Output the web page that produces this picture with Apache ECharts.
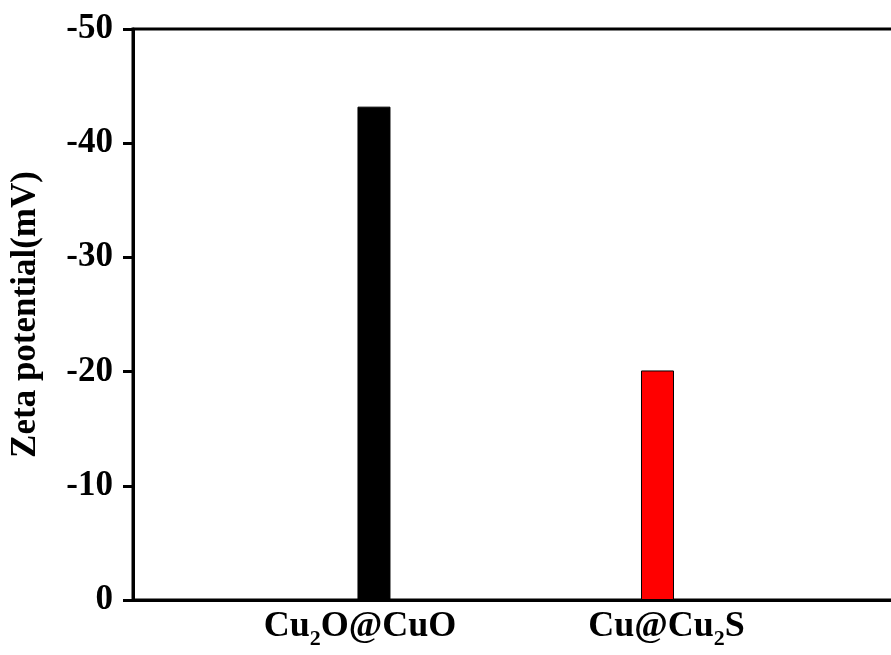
<!DOCTYPE html>
<html>
<head>
<meta charset="utf-8">
<script src="https://cdn.jsdelivr.net/npm/echarts@6/dist/echarts.min.js"></script>
<style>html,body{margin:0;padding:0;background:#fff}#c{width:891px;height:655px}</style>
</head>
<body>
<div id="c"></div>
<script>
const categories = ['Cu2O@CuO', 'Cu@Cu2S'];
const positions = [1, 2];
const zetaValues = [-43.2, -20.1];
const barColors = ['#000000', '#ff0000'];
const yTicks = [-50, -40, -30, -20, -10, 0];

const FONT = '"Liberation Serif", "Times New Roman", serif';
const base = {fontFamily: FONT, fontWeight: 'bold', fontSize: 36, color: '#000', lineHeight: 42};
const richLabel = {
  n: Object.assign({}, base),
  nr: Object.assign({}, base, {padding: [0, 28, 0, 0]}),
  nl: Object.assign({}, base, {padding: [0, 0, 0, 18]}),
  s: {fontFamily: FONT, fontWeight: 'bold', fontSize: 22, color: '#000', lineHeight: 42, padding: [24, 0, 0, 0]}
};
const labelShift = [['n', 'nr'], ['nl', 'n']];
function fmtCat(name, i) {
  const m = name.match(/^(.*?)(\d)(.*)$/);
  return '{' + labelShift[i][0] + '|' + m[1] + '}{s|' + m[2] + '}{' + labelShift[i][1] + '|' + m[3] + '}';
}

const chart = echarts.init(document.getElementById('c'), null, {renderer: 'canvas'});
chart.setOption({
  backgroundColor: '#fff',
  animation: false,
  grid: {left: 133, top: 29, width: 808, height: 571, outerBoundsMode: 'none', containLabel: false,
         show: true, borderColor: '#000', borderWidth: 3, backgroundColor: 'transparent'},
  xAxis: {
    type: 'value', min: 0.15, max: 3,
    axisLine: {show: true, onZero: false, lineStyle: {color: '#000', width: 3}},
    axisTick: {show: false},
    splitLine: {show: false},
    axisLabel: {
      customValues: positions,
      margin: 6,
      formatter: function (v) {
        const i = positions.indexOf(v);
        return i >= 0 ? fmtCat(categories[i], i) : '';
      },
      rich: richLabel
    }
  },
  yAxis: {
    type: 'value', min: -50, max: 0, interval: 10, inverse: true,
    name: 'Zeta potential(mV)', nameLocation: 'middle', nameGap: 90,
    nameTextStyle: {fontFamily: FONT, fontWeight: 'bold', fontSize: 35, color: '#000'},
    axisLine: {show: true, lineStyle: {color: '#000', width: 3}},
    axisTick: {show: true, inside: false, length: 10, lineStyle: {color: '#000', width: 3}},
    splitLine: {show: false},
    axisLabel: {
      fontFamily: FONT, fontWeight: 'bold', fontSize: 35, color: '#000', margin: 20,
      formatter: function (v) { return yTicks.indexOf(v) >= 0 ? String(v) : ''; }
    }
  },
  series: [{
    type: 'bar',
    barWidth: 33,
    data: positions.map((p, i) => ({value: [p, zetaValues[i]], itemStyle: {color: barColors[i], borderColor: '#000', borderWidth: 1}}))
  }]
});
</script>
</body>
</html>
